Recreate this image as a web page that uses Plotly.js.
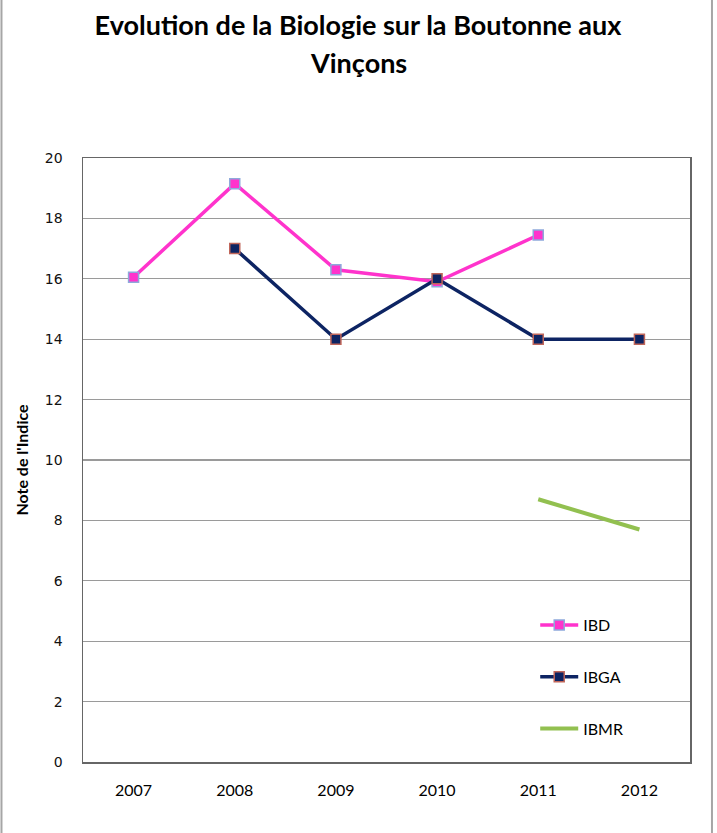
<!DOCTYPE html>
<html>
<head>
<meta charset="utf-8">
<script src="https://cdn.plot.ly/plotly-3.0.1.min.js"></script>
<style>html,body{margin:0;padding:0;background:#fff;}#chart{width:717px;height:833px;}</style>
</head>
<body>
<div id="chart"></div>
<script>
const years = ['2007', '2008', '2009', '2010', '2011', '2012'];
const ibd  = [16.05, 19.15, 16.3, 15.9, 17.45, null];
const ibga = [null, 17, 14, 16, 14, 14];
const ibmr = [null, null, null, null, 8.7, 7.7];
const yTicks = [0, 2, 4, 6, 8, 10, 12, 14, 16, 18, 20];
const titleLine1 = 'Evolution de la Biologie sur la Boutonne aux';
const titleLine2 = 'Vinçons';

const traces = [
  {x: years, y: ibd, name: 'IBD', type: 'scatter', mode: 'lines+markers', legendgroup: 'a',
   line: {color: '#FF33CC', width: 3.5},
   marker: {symbol: 'square', size: 10, color: '#FF33CC', line: {color: '#8EA9DB', width: 1.5}}},
  {x: years, y: ibga, name: 'IBGA', type: 'scatter', mode: 'lines+markers', legendgroup: 'b',
   line: {color: '#0D2463', width: 3.5},
   marker: {symbol: 'square', size: 10, color: '#0D2463', line: {color: '#C0665A', width: 1.5}}},
  {x: years, y: ibmr, name: 'IBMR', type: 'scatter', mode: 'lines', legendgroup: 'c',
   line: {color: '#92C050', width: 4}}
];

const titleFont = {family: 'Lato, Open Sans, sans-serif', size: 27, color: '#000', weight: 'bold'};

const layout = {
  width: 717, height: 833,
  margin: {l: 83, r: 27, t: 158, b: 71},
  paper_bgcolor: '#fff', plot_bgcolor: '#fff',
  showlegend: true,
  title: {text: titleLine1, x: 0.4993, xanchor: 'center', yref: 'container', y: 1 - 26 / 833, yanchor: 'middle',
          font: titleFont},
  annotations: [
    {text: titleLine2, xref: 'paper', yref: 'paper', x: (358 - 83) / 607, y: (762 - 62) / 604,
     xanchor: 'center', yanchor: 'middle', showarrow: false, font: titleFont}
  ],
  xaxis: {type: 'category', range: [-0.5, 5.5], tickvals: years, ticktext: years, showgrid: false, zeroline: false,
          showline: true, linecolor: '#666', linewidth: 1.5, mirror: true, ticks: '',
          ticklabelstandoff: 13,
          tickfont: {family: 'Lato, sans-serif', size: 16, color: '#000'}},
  yaxis: {range: [0, 20], tickvals: yTicks, ticktext: yTicks.map(String), showgrid: true,
          gridcolor: '#9a9a9a', gridwidth: 1.2, zeroline: false,
          showline: true, linecolor: '#666', linewidth: 1.5, mirror: true, ticks: '',
          ticklabelstandoff: 16,
          tickfont: {family: 'DejaVu Sans, sans-serif', size: 14, color: '#111'},
          title: {text: "Note de l'Indice", standoff: 12,
                  font: {family: 'Lato, sans-serif', size: 16, color: '#000', weight: 'bold'}}},
  legend: {x: 0.745, xanchor: 'left', y: 0.255, yanchor: 'top', bgcolor: 'rgba(0,0,0,0)',
           tracegroupgap: 28, traceorder: 'grouped', itemwidth: 38,
           font: {family: 'Lato, sans-serif', size: 16, color: '#000'}},
  shapes: [
    {type: 'line', xref: 'paper', yref: 'paper', x0: -0.1343, x1: -0.1343, y0: -0.2, y1: 1.3,
     line: {color: '#a6a6a6', width: 2}},
    {type: 'line', xref: 'paper', yref: 'paper', x0: 1.0362, x1: 1.0362, y0: -0.2, y1: 1.3,
     line: {color: '#a6a6a6', width: 2}}
  ]
};

Plotly.newPlot('chart', traces, layout, {displayModeBar: false, staticPlot: true});
</script>
</body>
</html>
